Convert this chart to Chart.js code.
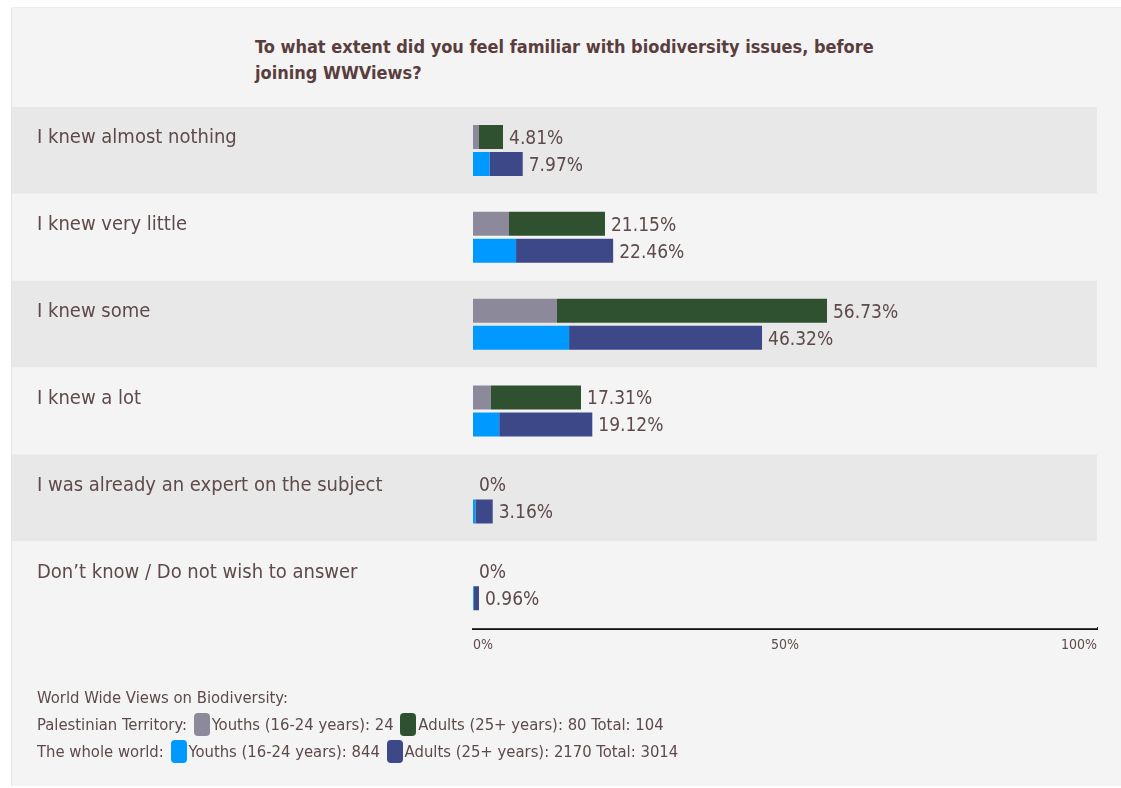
<!DOCTYPE html>
<html>
<head>
<meta charset="utf-8">
<script src="https://cdn.jsdelivr.net/npm/chart.js@4.4.1/dist/chart.umd.min.js"></script>
<style>
  html, body { margin: 0; padding: 0; background: #fff; }
  body { width: 1121px; height: 788px; position: relative; overflow: hidden; }
  .panel {
    position: absolute; left: 11px; top: 7px; width: 1110px; height: 778px;
    background: #f4f4f4; border-left: 1px solid #e4e4e4; border-top: 1px solid #ececec;
    border-radius: 3px 0 0 0;
  }
  #chart { position: absolute; left: 0; top: 0; }
  .title {
    position: absolute; left: 255px; top: 34px; width: 760px;
    font-family: "Liberation Sans Narrow", "DejaVu Sans Condensed", sans-serif;
    font-weight: bold; font-size: 18px; line-height: 26px; color: #5a3d3d;
  }
  .legend {
    position: absolute; left: 37px; top: 684px;
    font-family: "Liberation Sans Narrow", "DejaVu Sans Condensed", sans-serif;
    font-size: 16.5px; line-height: 27px; color: #5e4a4a;
  }
  .sw {
    display: inline-block; width: 16px; height: 23px; border-radius: 4px;
    vertical-align: -6px; margin: 0 2px;
  }
</style>
</head>
<body>
<div class="panel"></div>
<div class="title">To what extent did you feel familiar with biodiversity issues, before<br>joining WWViews?</div>
<canvas id="chart" width="1121" height="788"></canvas>
<div class="legend" id="legend"></div>

<script>
const answers = [
  "I knew almost nothing",
  "I knew very little",
  "I knew some",
  "I knew a lot",
  "I was already an expert on the subject",
  "Don\u2019t know / Do not wish to answer",
];

// percent of respondents, split into youths and adults
const ptYouths = [0.96, 5.77, 13.46, 2.88, 0, 0];
const ptAdults = [3.85, 15.38, 43.27, 14.43, 0, 0];
const worldYouths = [2.65, 6.90, 15.40, 4.20, 0.40, 0.13];
const worldAdults = [5.32, 15.56, 30.92, 14.92, 2.76, 0.83];

const xTicks = [0, 50, 100];

const colors = {
  ptYouths: "#8c8a9a",
  ptAdults: "#2f5130",
  worldYouths: "#0099ff",
  worldAdults: "#3d4889",
};

const textColor = "#5e4a4a";
const labelFont = '"DejaVu Sans Condensed", "Liberation Sans Narrow", sans-serif';

// legend counts
const groups = [
  { name: "Palestinian Territory:", youths: 24, adults: 80, total: 104, c1: colors.ptYouths, c2: colors.ptAdults },
  { name: "The whole world:", youths: 844, adults: 2170, total: 3014, c1: colors.worldYouths, c2: colors.worldAdults },
];

let legendHtml = "World Wide Views on Biodiversity:<br>";
groups.forEach((g) => {
  legendHtml += g.name + ' <span class="sw" style="background:' + g.c1 + '"></span>Youths (16-24 years): ' + g.youths +
    ' <span class="sw" style="background:' + g.c2 + '"></span>Adults (25+ years): ' + g.adults + " Total: " + g.total + "<br>";
});
document.getElementById("legend").innerHTML = legendHtml;

function fmt(v) {
  if (v === 0) return "0%";
  return v.toFixed(2) + "%";
}

// alternating row bands + answer labels on the left
const rowsPlugin = {
  id: "rows",
  beforeDatasetsDraw(chart) {
    const { ctx, chartArea, scales } = chart;
    const y = scales.y;
    const step = (chartArea.bottom - chartArea.top) / answers.length;
    ctx.save();
    answers.forEach((a, i) => {
      const mid = y.getPixelForValue(i);
      const top = mid - step / 2;
      ctx.fillStyle = i % 2 === 0 ? "#e8e8e8" : "#f4f4f4";
      ctx.fillRect(12, top, chartArea.right - 12, step);
      ctx.fillStyle = textColor;
      ctx.font = "20px " + labelFont;
      ctx.textBaseline = "middle";
      ctx.textAlign = "left";
      ctx.fillText(a, 37, top + 31);
    });
    ctx.restore();
  },
  afterDatasetsDraw(chart) {
    const { ctx } = chart;
    ctx.save();
    ctx.fillStyle = textColor;
    ctx.font = "19px " + labelFont;
    ctx.textBaseline = "middle";
    ctx.textAlign = "left";
    [[1, ptYouths, ptAdults], [3, worldYouths, worldAdults]].forEach(([di, yArr, aArr]) => {
      const meta = chart.getDatasetMeta(di);
      meta.data.forEach((bar, i) => {
        const total = Math.round((yArr[i] + aArr[i]) * 100) / 100;
        ctx.fillText(fmt(total), bar.x + 6, bar.y + 2);
      });
    });
    ctx.restore();
  },
};

const barOpts = { categoryPercentage: 0.622, barPercentage: 0.89, borderWidth: 0 };

new Chart(document.getElementById("chart"), {
  type: "bar",
  data: {
    labels: answers,
    datasets: [
      { label: "Palestinian Territory youths", data: ptYouths, backgroundColor: colors.ptYouths, stack: "pt", ...barOpts },
      { label: "Palestinian Territory adults", data: ptAdults, backgroundColor: colors.ptAdults, stack: "pt", ...barOpts },
      { label: "World youths", data: worldYouths, backgroundColor: colors.worldYouths, stack: "world", ...barOpts },
      { label: "World adults", data: worldAdults, backgroundColor: colors.worldAdults, stack: "world", ...barOpts },
    ],
  },
  options: {
    indexAxis: "y",
    responsive: false,
    animation: false,
    layout: { padding: { left: 473, right: 24, top: 107, bottom: 125 } },
    plugins: { legend: { display: false }, tooltip: { enabled: false } },
    scales: {
      y: { stacked: true, display: false },
      x: {
        stacked: true,
        min: 0,
        max: 100,
        afterBuildTicks: (axis) => { axis.ticks = xTicks.map((v) => ({ value: v })); },
        grid: { display: false, drawTicks: false },
        border: { display: true, color: "#111", width: 3 },
        ticks: {
          align: "inner",
          padding: 9,
          color: textColor,
          font: { family: '"Liberation Sans Narrow", "DejaVu Sans Condensed", sans-serif', size: 14 },
          callback: (v) => v + "%",
        },
      },
    },
  },
  plugins: [rowsPlugin],
});
</script>
</body>
</html>
